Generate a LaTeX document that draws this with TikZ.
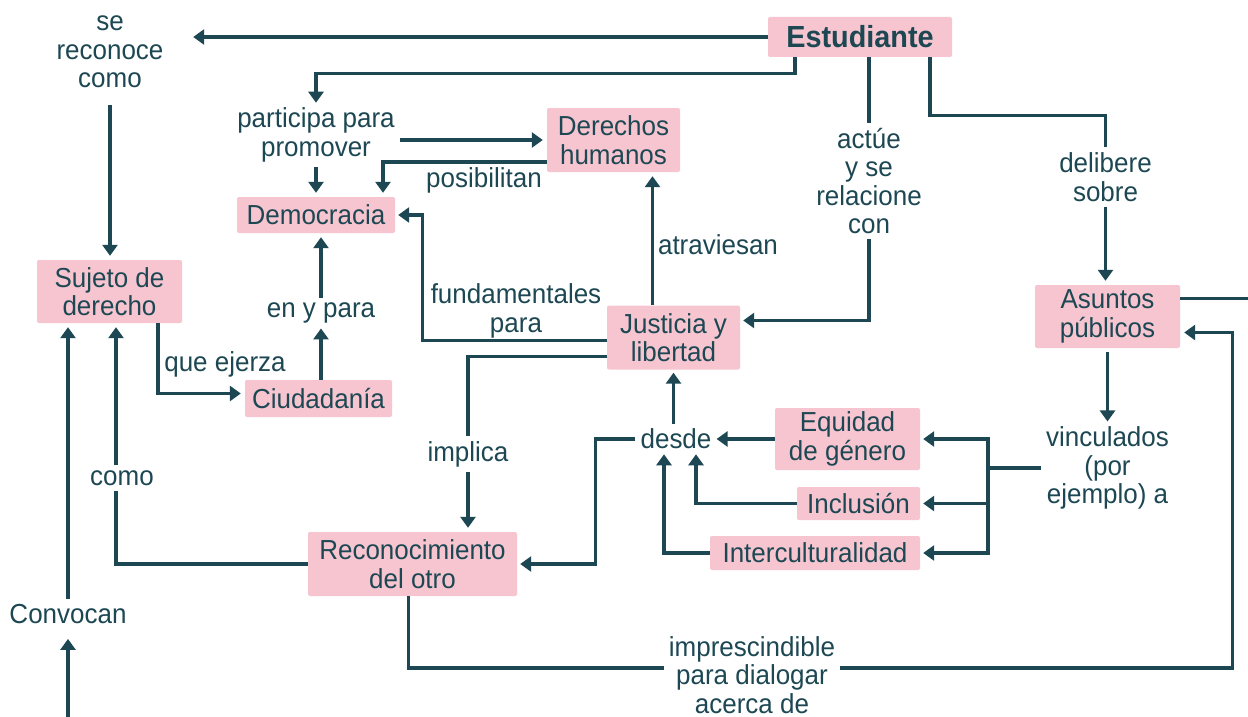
\documentclass[tikz,border=0pt]{standalone}
\usepackage{fontspec}
\setmainfont[FakeStretch=0.945]{Liberation Sans}
\usetikzlibrary{arrows.meta,calc}
\definecolor{ink}{HTML}{1D4853}
\definecolor{rosa}{HTML}{F6C5D0}
\begin{document}
\begin{tikzpicture}[x=1pt,y=-1pt,
  every node/.style={text=ink, font=\fontsize{27.5}{28.5}\selectfont},
  box/.style={fill=rosa, inner sep=0pt, align=center, rounded corners=2pt},
  lab/.style={align=center, inner sep=5pt},
  con/.style={draw=ink, line width=3.2pt},
  arr/.style={con, -{Triangle[length=11pt,width=15pt]}}]
\useasboundingbox (0,0) rectangle (1248,717);
\fill[white] (0,0) rectangle (1248,717);

% concept boxes
\node[box, minimum width=184, minimum height=40, font=\fontsize{30.5}{32}\selectfont\bfseries] (estud) at (860,37) {Estudiante};
\node[box, minimum width=145, minimum height=63] (sujeto) at (109.5,291.5) {Sujeto de\\derecho};
\node[box, minimum width=158, minimum height=36] (democ) at (316,215) {Democracia};
\node[box, minimum width=133, minimum height=64] (derechos) at (613.5,140) {Derechos\\humanos};
\node[box, minimum width=133, minimum height=64] (justicia) at (673.5,337.5) {Justicia y\\libertad};
\node[box, minimum width=147, minimum height=37] (ciudad) at (318.5,398.5) {Ciudadanía};
\node[box, minimum width=145, minimum height=63] (asuntos) at (1107.5,316.5) {Asuntos\\públicos};
\node[box, minimum width=145, minimum height=62] (equidad) at (847.5,439) {Equidad\\de género};
\node[box, minimum width=123, minimum height=33] (inclusion) at (858.5,503.5) {Inclusión};
\node[box, minimum width=210, minimum height=34] (intercult) at (815,553) {Interculturalidad};
\node[box, minimum width=209, minimum height=64] (recon) at (412.5,564) {Reconocimiento\\del otro};

% linking phrases
\node[lab, minimum width=166] (serec) at (110,52) {se\\reconoce\\como};
\node[lab] (particip) at (316,135) {participa para\\promover};
\node[lab] (posib) at (484,180) {posibilitan};
\node[lab] (fund) at (516,311) {fundamentales\\para};
\node[lab] (atrav) at (718,245) {atraviesan};
\node[lab] (actue) at (869,181) {actúe\\y se\\relacione\\con};
\node[lab] (delib) at (1105.5,177) {delibere\\sobre};
\node[lab] (vinc) at (1107.5,468) {vinculados\\(por\\ejemplo) a};
\node[lab] (desde) at (676,439) {desde};
\node[lab] (implica) at (468,454) {implica};
\node[lab] (como) at (122,478) {como};
\node[lab] (queej) at (225,364) {que ejerza};
\node[lab] (enypara) at (321,313) {en y para};
\node[lab] (convocan) at (68,614) {Convocan};
\node[lab] (impresc) at (752,675) {imprescindible\\para dialogar\\acerca de};

\coordinate (exitR) at (1248,298.5);
\coordinate (vj) at (988,468);
\coordinate (cbot) at (68,717);

% connectors
\draw[arr] (estud.west) -- (estud.west -| serec.east);
\draw[arr, shorten >=4pt] ([yshift=-12]serec.south) -- (serec.south |- sujeto.north);
\draw[arr] ([xshift=-65]estud.south) |- ++(0,16) -| (particip.north);
\draw[arr, shorten >=4pt] (particip.east |- derechos.west) -- (derechos.west);
\draw[arr, shorten >=4pt] (particip.south) -- (particip.south |- democ.north);
\draw[arr, shorten >=4pt] ([yshift=-22]derechos.west) -| ([xshift=67]democ.north);
\draw[arr, shorten >=3pt] ([yshift=-3]justicia.west) -| ([xshift=27]democ.east) -- (democ.east);
\draw[arr, shorten >=4pt] ([xshift=-21]justicia.north) -- ([xshift=-21]justicia.north |- derechos.south);
\draw[con] (estud.south -| actue.north) -- (actue.north);
\draw[arr, shorten >=3pt] (actue.south) |- ([yshift=17]justicia.east);
\draw[con] ([xshift=70]estud.south) |- ++(0,58) -| (delib.north);
\draw[arr, shorten >=4pt] (delib.south) -- (delib.south |- asuntos.north);
\draw[con] ([yshift=18]asuntos.east) -- (exitR);
\draw[arr] ([yshift=-4]asuntos.south) -- (vinc.north);
\draw[con] (vinc.west) -- (vj);
\draw[arr, shorten >=3pt] (vj) |- (equidad.east);
\draw[arr, shorten >=3pt] (vj) |- (inclusion.east);
\draw[arr, shorten >=3pt] (vj) |- (intercult.east);
\draw[arr] (equidad.west) -- (desde.east);
\draw[arr, shorten >=3pt] (justicia.south |- desde.north) -- (justicia.south);
\draw[arr] (inclusion.west) -| ([xshift=20]desde.south);
\draw[arr] (intercult.west) -| ([xshift=-12]desde.south);
\draw[arr, shorten >=3pt] (desde.west) -- ++(-40,0) |- (recon.east);
\draw[con] ([yshift=-19]justicia.west) -| (implica.north);
\draw[arr, shorten >=4pt] (implica.south) -- (implica.south |- recon.north);
\draw[con] (recon.west) -| ([xshift=-6]como.south);
\draw[arr, shorten >=4pt] ([xshift=-6]como.north) -- ([xshift=-6]como.north |- sujeto.south);
\draw[arr, shorten >=4pt] ([xshift=48.5]sujeto.south) |- ([yshift=5]ciudad.west);
\draw[arr] (enypara.south |- ciudad.north) -- (enypara.south);
\draw[arr, shorten >=4pt] (enypara.north) -- (enypara.north |- democ.south);
\draw[arr, shorten >=10pt] (cbot) -- (convocan.south);
\draw[arr, shorten >=4pt] (convocan.north) -- (convocan.north |- sujeto.south);
\draw[con] ([xshift=-4]recon.south) |- ([yshift=7]impresc.west);
\draw[arr, shorten >=4pt] ([yshift=7]impresc.east) -| ([xshift=52,yshift=-16]asuntos.east) -- ([yshift=-16]asuntos.east);
\end{tikzpicture}
\end{document}
